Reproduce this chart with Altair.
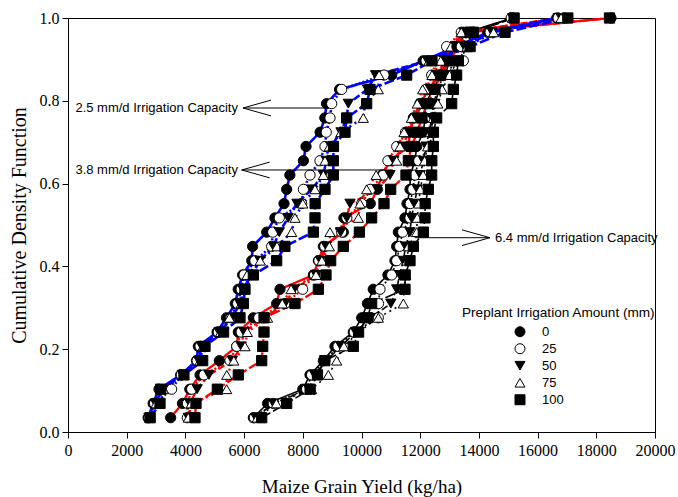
import altair as alt
import pandas as pd

# ---------------- data ----------------
amounts = ["0", "25", "50", "75", "100"]          # preplant irrigation (mm)
capacities = ["6.4", "3.8", "2.5"]                 # irrigation capacity (mm/d)

cdf = [0.0345, 0.0690, 0.1034, 0.1379, 0.1724, 0.2069, 0.2414, 0.2759, 0.3103,
       0.3448, 0.3793, 0.4138, 0.4483, 0.4828, 0.5172, 0.5517, 0.5862, 0.6207,
       0.6552, 0.6897, 0.7241, 0.7586, 0.7931, 0.8276, 0.8621, 0.8966, 0.9310,
       0.9655, 1.0000]

# 2.5 mm/d capacity (blue)
y25_0 = [2730, 2900, 3100, 3840, 4380, 4440, 5080, 5400, 5700, 5800, 5950, 6260, 6290, 6770, 7050,
         7360, 7450, 7560, 8020, 8110, 8590, 8750, 8810, 9250, 11030, 12100, 13250, 14300, 16650]
y25_25 = [2760, 2950, 3530, 3860, 4400, 4500, 5120, 5550, 5780, 5900, 6000, 6370, 6940, 6975, 7200,
          7960, 8020, 8245, 8586, 8756, 8800, 8927, 8984, 9325, 10767, 12200, 13400, 14380, 16700]
y25_50 = [2760, 2980, 3200, 3900, 4450, 4550, 5150, 5600, 5850, 5950, 6260, 6540, 7000, 7200, 7500,
          7800, 8300, 8700, 8800, 8950, 9300, 9495, 9552, 10200, 10480, 12250, 13500, 14450, 16800]
y25_75 = [2780, 3000, 3250, 3950, 4500, 4600, 5200, 5497, 5900, 6000, 6100, 6550, 7120, 7620, 7734,
          8000, 8416, 8700, 8756, 8900, 9300, 10062, 10120, 10573, 10600, 12300, 13600, 14500, 16800]
y25_100 = [2800, 3135, 3158, 3950, 4589, 4668, 5300, 5860, 5975, 6030, 6315, 7110, 7390, 8360, 8416,
           8420, 8756, 9040, 9040, 9045, 9438, 9495, 10176, 10290, 11539, 12400, 13700, 14890, 17030]

# 3.8 mm/d capacity (red)
y38_0 = [3498, 3900, 4150, 4500, 5156, 5748, 5803, 6315, 7110, 7223, 8360, 8530, 8700, 9380, 9400,
         10300, 10539, 10700, 10971, 11596, 11650, 11766, 11993, 12300, 12675, 12800, 13100, 13470, 18500]
y38_25 = [4066, 4070, 4214, 4634, 5520, 5750, 5900, 6500, 7394, 7995, 8400, 8550, 8750, 9325, 9500,
          10006, 10300, 10743, 10900, 11200, 11500, 11800, 12000, 12200, 12391, 12561, 12900, 13400, 16900]
y38_50 = [4100, 4150, 4400, 4800, 5600, 5900, 6000, 6700, 7394, 7700, 8450, 8600, 8800, 9290, 9500,
          9608, 10539, 10971, 11100, 11400, 11600, 11850, 12050, 12350, 12550, 12850, 13200, 13500, 16700]
y38_75 = [4100, 4200, 5406, 5410, 5650, 6031, 6110, 6800, 7300, 7600, 8450, 8650, 8905, 8927, 9893,
          9950, 10176, 10500, 11198, 11312, 11450, 11700, 11900, 12084, 12400, 12700, 13050, 13400, 16800]
y38_100 = [4327, 4361, 5088, 5803, 6600, 6634, 6678, 6680, 7734, 8530, 8790, 8950, 9380, 9927, 10346,
           10767, 10994, 11516, 11596, 11700, 11900, 12050, 12250, 12500, 12700, 13000, 13300, 13700, 18450]

# 6.4 mm/d capacity (black)
y64_0 = [6315, 6800, 8000, 8245, 8700, 9097, 9720, 10006, 10200, 10400, 10900, 11141, 11198, 11255, 11482,
         11550, 11652, 11660, 11823, 11880, 12107, 12164, 12170, 12448, 12700, 12900, 13242, 13583, 15150]
y64_25 = [6350, 6996, 8130, 8300, 8750, 9200, 9750, 10573, 10580, 10630, 11028, 11200, 11300, 11400, 11652,
          11660, 11750, 11823, 11950, 12334, 12391, 12400, 12448, 12600, 12800, 13470, 13500, 13810, 15100]
y64_50 = [6400, 7000, 8200, 8400, 8800, 9300, 9800, 10300, 11000, 11198, 11300, 11425, 11500, 11652, 11700,
          11800, 11900, 12000, 12107, 12200, 12300, 12400, 12500, 12650, 12850, 13000, 13300, 13650, 15150]
y64_75 = [6450, 7100, 8300, 8870, 9154, 9400, 9900, 10573, 11425, 11450, 11500, 11550, 11600, 11880, 11900,
          11950, 12000, 12100, 12150, 12250, 12350, 12450, 12600, 12750, 13000, 13100, 13400, 13700, 15150]
y64_100 = [6600, 7450, 8250, 8500, 8750, 9720, 9900, 10200, 10346, 11482, 11490, 11652, 11766, 12107, 12164,
           12170, 12277, 12391, 12395, 12448, 12450, 12561, 13072, 13129, 13242, 13300, 13583, 13810, 15200]

yields = {
    "6.4": {"0": y64_0, "25": y64_25, "50": y64_50, "75": y64_75, "100": y64_100},
    "3.8": {"0": y38_0, "25": y38_25, "50": y38_50, "75": y38_75, "100": y38_100},
    "2.5": {"0": y25_0, "25": y25_25, "50": y25_50, "75": y25_75, "100": y25_100},
}

x_ticks = [0, 2000, 4000, 6000, 8000, 10000, 12000, 14000, 16000, 18000, 20000]
y_ticks = [0.0, 0.2, 0.4, 0.6, 0.8, 1.0]

ann_labels = ["2.5 mm/d Irrigation Capacity", "3.8 mm/d Irrigation Capacity", "6.4 mm/d Irrigation Capacity"]
legend_title = "Preplant Irrigation Amount (mm)"

# ---------------- build table ----------------
rows = []
for cap in capacities:
    for amt in amounts:
        for rank, (p, v) in enumerate(zip(cdf, yields[cap][amt])):
            rows.append({"capacity": cap, "amount": amt, "rank": rank, "cdf": p, "yld": v})
df = pd.DataFrame(rows)

# ---------------- styles ----------------
SERIF = "Liberation Serif"
SANS = "Liberation Sans"
line_colors = {"2.5": "#0000ff", "3.8": "#ff0000", "6.4": "#000000"}
line_widths = {"2.5": 2.6, "3.8": 2.3, "6.4": 1.6}
dashes = [[1, 0], [2, 2], [7, 3], [2, 4], [10, 3]]
shapes = ["circle", "circle", "triangle-down", "triangle-up", "square"]
fills = ["black", "white", "black", "white", "black"]

xs = alt.Scale(domain=[0, 20000], nice=False, zero=False)
ys = alt.Scale(domain=[0, 1], nice=False)

X = alt.X("yld:Q", scale=xs, title="Maize Grain Yield (kg/ha)",
          axis=alt.Axis(values=x_ticks, format="d", grid=False, tickSize=6, labelPadding=4,
                        labelFont=SERIF, labelFontSize=16, labelColor="black",
                        titleFont=SERIF, titleFontSize=19, titleFontWeight="normal", titleColor="black",
                        titlePadding=19, domainColor="black", tickColor="black", labelFlush=False))
Y = alt.Y("cdf:Q", scale=ys, title="Cumulative Density Function",
          axis=alt.Axis(values=y_ticks, format=".1f", grid=False, tickSize=6, labelPadding=3,
                        labelFont=SERIF, labelFontSize=16, labelColor="black",
                        titleFont=SERIF, titleFontSize=20, titleFontWeight="normal", titleColor="black",
                        titlePadding=10, domainColor="black", tickColor="black", labelFlush=False))

shape_enc = alt.Shape("amount:N", scale=alt.Scale(domain=amounts, range=shapes), legend=None)
fill_enc = alt.Fill("amount:N", scale=alt.Scale(domain=amounts, range=fills), legend=None)

layers = []
for cap in capacities:  # black first, then red, then blue on top
    layers.append(
        alt.Chart(df).transform_filter(alt.datum.capacity == cap)
        .mark_line(color=line_colors[cap], strokeWidth=line_widths[cap])
        .encode(x=X, y=Y, detail="amount:N", order="rank:Q",
                strokeDash=alt.StrokeDash("amount:N", scale=alt.Scale(domain=amounts, range=dashes), legend=None))
    )

points = alt.Chart(df).mark_point(filled=True, size=105, stroke="black", strokeWidth=1, opacity=1).encode(
    x=X, y=Y, shape=shape_enc, fill=fill_enc)
layers.append(points)

# annotations (arrows + labels), in data units
arrow_y = [0.7826, 0.6329, 0.4693]
arrow_tip = [5963, 5918, 14378]
arrow_tail = [8825, 11073, 11823]
head_dx = 954
head_dy = 0.019
segs = []
for yv, tip, tail in zip(arrow_y, arrow_tip, arrow_tail):
    d = 1 if tail > tip else -1
    segs.append({"x": tip, "x2": tail, "y": yv, "y2": yv})
    segs.append({"x": tip, "x2": tip + d * head_dx, "y": yv, "y2": yv + head_dy})
    segs.append({"x": tip, "x2": tip + d * head_dx, "y": yv, "y2": yv - head_dy})
seg_df = pd.DataFrame(segs)
arrows = alt.Chart(seg_df).mark_rule(color="black", strokeWidth=1).encode(
    x=alt.X("x:Q", scale=xs), x2="x2:Q", y=alt.Y("y:Q", scale=ys), y2="y2:Q")
layers.append(arrows)

text_df = pd.DataFrame({"label": ann_labels, "x": [5792, 5792, 14549], "y": arrow_y,
                        "align": ["right", "right", "left"]})
for al in ["right", "left"]:
    layers.append(
        alt.Chart(text_df).transform_filter(alt.datum.align == al)
        .mark_text(font=SANS, fontSize=13, align=al, baseline="middle", color="black")
        .encode(x=alt.X("x:Q", scale=xs), y=alt.Y("y:Q", scale=ys), text="label:N")
    )

# legend drawn as marks (positions in data units)
leg_sym_x = 15400
leg_lab_x = 16150
leg_top = 0.2423
leg_step = 0.0411
leg_df = pd.DataFrame({"amount": amounts,
                       "lx": [leg_sym_x] * 5,
                       "tx": [leg_lab_x] * 5,
                       "ly": [leg_top - i * leg_step for i in range(5)]})
layers.append(
    alt.Chart(leg_df).mark_point(filled=True, size=100, stroke="black", strokeWidth=1, opacity=1)
    .encode(x=alt.X("lx:Q", scale=xs), y=alt.Y("ly:Q", scale=ys), shape=shape_enc, fill=fill_enc)
)
layers.append(
    alt.Chart(leg_df).mark_text(font=SANS, fontSize=13, align="left", baseline="middle", color="black")
    .encode(x=alt.X("tx:Q", scale=xs), y=alt.Y("ly:Q", scale=ys), text="amount:N")
)
title_df = pd.DataFrame({"t": [legend_title], "x": [13424], "y": [0.2874]})
layers.append(
    alt.Chart(title_df).mark_text(font=SANS, fontSize=13.6, align="left", baseline="middle", color="black")
    .encode(text="t:N", x=alt.X("x:Q", scale=xs), y=alt.Y("y:Q", scale=ys))
)

chart = alt.layer(*layers).properties(
    width=587, height=414,
    autosize=alt.AutoSizeParams(type="none"),
    padding={"left": 68, "top": 18, "right": 23, "bottom": 65},
).configure_view(stroke="black", strokeWidth=1).configure_axis(domainWidth=1, tickWidth=1)

chart.save("out.html", embed_options={"renderer": "svg", "actions": False})
